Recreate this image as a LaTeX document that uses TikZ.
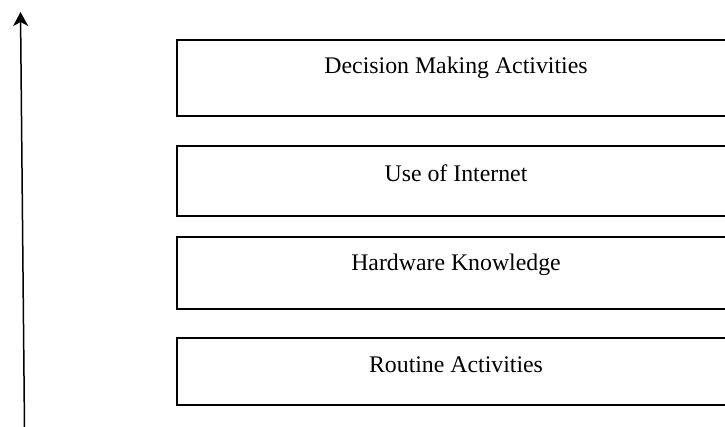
\documentclass[tikz,border=0pt]{standalone}
\usepackage{fontspec}
\setmainfont{Liberation Serif}
\usetikzlibrary{arrows.meta}
\begin{document}
\begin{tikzpicture}[x=1bp,y=1bp,
  layerbox/.style={draw=black,line width=1.6bp,rectangle,minimum width=560bp,inner sep=0pt},
  layertext/.style={anchor=base,inner sep=0pt,font=\fontsize{23.8bp}{28bp}\selectfont},
  axisarrow/.style={line width=1.5bp,-{Stealth[length=14bp,width=15bp,inset=4bp]}}]
\useasboundingbox (0,0) rectangle (725,426);
\clip (0,0) rectangle (725,426);
\node[layerbox,minimum height=76bp] (b1) at (457,348) {};
\node[layerbox,minimum height=70bp] (b2) at (457,245) {};
\node[layerbox,minimum height=72bp] (b3) at (457,153) {};
\node[layerbox,minimum height=67bp] (b4) at (457,54.5) {};
\node[layertext] (t1) at (456,353) {Decision Making Activities};
\node[layertext] (t2) at (456,245) {Use of Internet};
\node[layertext] (t3) at (456,156) {Hardware Knowledge};
\node[layertext] (t4) at (456,54) {Routine Activities};
\coordinate (abot) at (24.5,-2);
\coordinate (atop) at (20.5,414);
\draw[axisarrow] (abot) -- (atop);
\end{tikzpicture}
\end{document}
